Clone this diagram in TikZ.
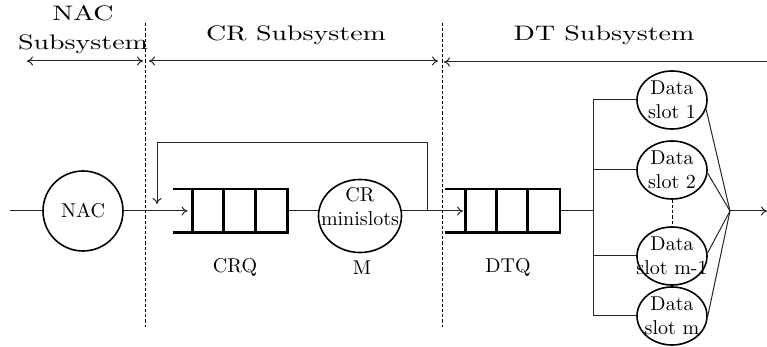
\documentclass[tikz,border=0pt]{standalone}
\usepackage{graphicx}
\usetikzlibrary{arrows.meta, positioning, shapes.geometric, calc}

\begin{document}
\begin{tikzpicture}[
    x=0.5pt, y=-0.5pt,
    >={To[length=3pt, width=4.5pt]},
    every node/.style={font=\rmfamily\normalsize, align=center, text=black},
    server/.style={circle, draw=black, line width=0.8pt, minimum size=40pt, inner sep=0pt},
    slot/.style={ellipse, draw=black, line width=0.8pt, minimum width=35pt, minimum height=29pt, inner sep=0pt},
    queuebox/.style={rectangle, minimum width=47pt, minimum height=21.5pt, inner sep=0pt},
    qline/.style={draw=black, line width=1.4pt},
    conn/.style={draw=black!85, line width=0.5pt},
    border/.style={draw=black, line width=0.5pt, dash pattern=on 1.6pt off 1pt},
    span/.style={<->, draw=black!85, line width=0.5pt},
    title/.style={font=\fontsize{10.5}{14.5}\selectfont, inner sep=0pt}
  ]
  \useasboundingbox (0,0) rectangle (767,347);

  \coordinate (b1top) at (145,23);
  \coordinate (b1bot) at (145,327);
  \coordinate (b2top) at (442,23);
  \coordinate (b2bot) at (442,327);
  \draw[border] (b1top) -- (b1bot);
  \draw[border] (b2top) -- (b2bot);

  \node[title] (nactitle) at (83,29.5) {\scalebox{1.33}[1]{\begin{tabular}{@{}c@{}}NAC\\Subsystem\end{tabular}}};
  \node[title] (crtitle) at (296,35) {\scalebox{1.33}[1]{CR Subsystem}};
  \node[title] (dttitle) at (604,35) {\scalebox{1.33}[1]{DT Subsystem}};

  \coordinate (nacl) at (27,61);
  \coordinate (nacr) at (143,61);
  \coordinate (crl) at (149,61);
  \coordinate (crr) at (438,61);
  \coordinate (dtl) at (444,62);
  \coordinate (dtr) at (790,62);
  \draw[span] (nacl) -- (nacr);
  \draw[span] (crl) -- (crr);
  \draw[conn, <-] (dtl) -- (dtr);

  \node[server] (nac) at (83,211) {NAC};
  \node[queuebox] (crq) at (240,211) {};
  \node[ellipse, draw=black, line width=0.8pt, minimum width=41.5pt, minimum height=36.5pt, inner sep=0pt] (cr) at (360,216) {};
  \node (crtext) at (360,207) {CR\\minislots};
  \node[queuebox] (dtq) at (512.5,211) {};

  \foreach \q in {crq,dtq} {
    \draw[qline] ([xshift=-10pt]\q.north west) -- (\q.north east) -- (\q.south east) -- ([xshift=-10pt]\q.south west);
    \foreach \f in {0,0.33,0.66}
      \draw[qline] ($(\q.north west)!\f!(\q.north east)$) -- ($(\q.south west)!\f!(\q.south east)$);
  }

  \node (crqlabel) at (235,267) {CRQ};
  \node (mlabel) at (362,268) {M};
  \node (dtqlabel) at (508,267) {DTQ};

  \node[slot] (s1) at (672,100) {Data\\\makebox[20pt]{slot 1}};
  \node[slot] (s2) at (672,170) {Data\\\makebox[20pt]{slot 2}};
  \node[slot] (s3) at (672,256) {Data\\\makebox[20pt]{slot m-1}};
  \node[slot] (s4) at (672,316) {Data\\\makebox[20pt]{slot m}};
  \draw[border] (s2.south) -- (s3.north);

  \coordinate (in) at (10,211);
  \draw[conn] (in) -- (nac.west);
  \draw[conn, ->, shorten >=2.5pt] (nac.east) -- (crq.west);
  \draw[conn] (crq.east) -- (cr.west |- crq.east);
  \draw[conn, ->, shorten >=1pt] (cr.east |- crq.east) -- (dtq.west);

  \coordinate (split) at (427,211);
  \coordinate (fbend) at (157,204);
  \draw[conn, ->] (split) -- ++(0,-68) -| (fbend);

  \coordinate (bus) at (593,211);
  \draw[conn] (dtq.east) -- (bus);
  \foreach \s in {s1,s2,s3,s4}
    \draw[conn] (\s.west) -- (\s.west -| bus) -- (bus);

  \coordinate (join) at (730,211);
  \foreach \s/\a in {s1/-15, s2/-5, s3/5, s4/0}
    \draw[conn] (\s.\a) -- (join);
  \coordinate (out) at (767,211);
  \draw[conn, ->] (join) -- (out);
\end{tikzpicture}
\end{document}
